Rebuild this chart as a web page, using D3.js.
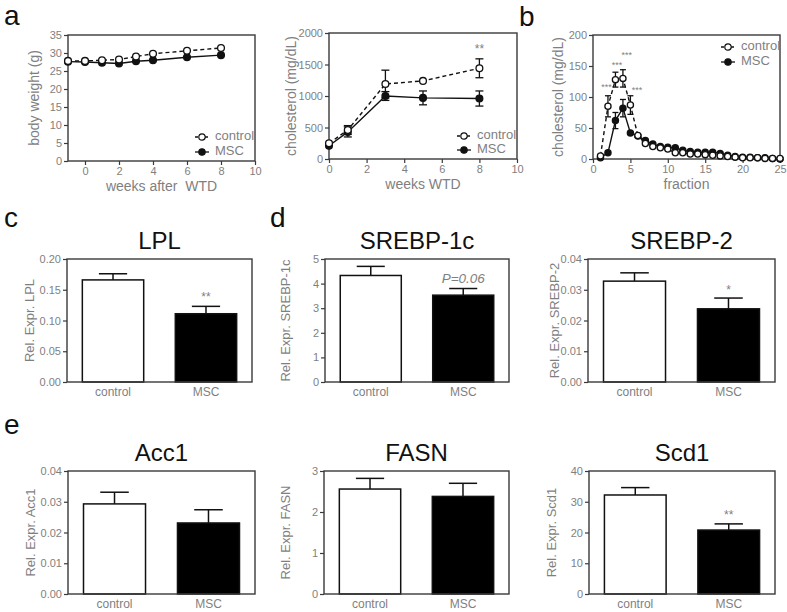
<!DOCTYPE html>
<html>
<head>
<meta charset="utf-8">
<script src="https://cdn.jsdelivr.net/npm/d3@7"></script>
<style>
  html, body { margin: 0; padding: 0; background: #fff; }
  svg { display: block; font-family: "Liberation Sans", Arial, sans-serif; }
</style>
</head>
<body>
<svg id="chart" width="787" height="612"></svg>
<script>
// ---------- DATA ----------
// panel a (left): body weight
const bwWeeks = [-1, 0, 1, 2, 3, 4, 6, 8];
const bwControl = [27.8, 27.8, 28.0, 28.2, 29.0, 29.8, 30.6, 31.4];
const bwControlErr = [0.4, 0.4, 0.4, 0.4, 0.5, 0.5, 0.6, 0.9];
const bwMSC = [27.6, 27.5, 27.3, 27.1, 27.7, 28.0, 28.8, 29.4];
const bwMSCErr = [0.4, 0.4, 0.4, 0.5, 0.4, 0.4, 0.5, 0.6];
const bwXTicks = [0, 2, 4, 6, 8, 10];
const bwYTicks = [0, 5, 10, 15, 20, 25, 30, 35];

// panel a (right): plasma cholesterol
const cholWeeks = [0, 1, 3, 5, 8];
const cholControl = [250, 460, 1190, 1240, 1440];
const cholControlErr = [40, 70, 220, 40, 150];
const cholMSC = [210, 430, 1000, 970, 960];
const cholMSCErr = [30, 80, 70, 110, 120];
const cholXTicks = [0, 2, 4, 6, 8, 10];
const cholYTicks = [0, 500, 1000, 1500, 2000];
const cholSig = [{x: 8, y: 1680, label: "**"}];

// panel b: FPLC fractions
const fractions = d3.range(1, 26);
const fracControl = [5, 85, 128, 130, 87, 38, 25, 20, 18, 16, 10, 10, 8, 8, 7, 6, 5, 4, 3, 2, 2, 2, 1, 1, 1];
const fracControlErr = [3, 17, 12, 14, 15, 5, 4, 3, 3, 3, 3, 3, 3, 3, 3, 2, 2, 2, 2, 1, 1, 1, 1, 1, 1];
const fracMSC = [2, 10, 62, 82, 42, 37, 30, 24, 20, 19, 18, 14, 12, 11, 11, 11, 9, 6, 4, 3, 3, 2, 2, 1, 0];
const fracMSCErr = [1, 2, 13, 14, 5, 4, 4, 3, 2, 2, 2, 2, 2, 2, 2, 2, 2, 2, 1, 1, 1, 1, 1, 1, 1];
const fracXTicks = [0, 5, 10, 15, 20, 25];
const fracYTicks = [0, 50, 100, 150, 200];
const fracSig = [
  {x: 1.8, y: 112, label: "***"},
  {x: 3.2, y: 147, label: "***"},
  {x: 4.5, y: 163, label: "***"},
  {x: 5.9, y: 106, label: "***"}
];

// bar panels
const groups = ["control", "MSC"];
const lplMean = [0.166, 0.111];
const lplErr = [0.010, 0.012];
const lplTicks = [0, 0.05, 0.10, 0.15, 0.20];
const srebp1cMean = [4.33, 3.53];
const srebp1cErr = [0.37, 0.27];
const srebp1cTicks = [0, 1, 2, 3, 4, 5];
const srebp2Mean = [0.0328, 0.0238];
const srebp2Err = [0.0027, 0.0035];
const srebp2Ticks = [0, 0.01, 0.02, 0.03, 0.04];
const acc1Mean = [0.0293, 0.0231];
const acc1Err = [0.0038, 0.0043];
const acc1Ticks = [0, 0.01, 0.02, 0.03, 0.04];
const fasnMean = [2.56, 2.38];
const fasnErr = [0.26, 0.32];
const fasnTicks = [0, 1, 2, 3];
const scd1Mean = [32.2, 20.8];
const scd1Err = [2.4, 2.0];
const scd1Ticks = [0, 10, 20, 30, 40];

// ---------- STYLE ----------
const AXIS = "#3a3a3a";
const GRAY = "#7f7f7f";
const FONT = "Liberation Sans, Arial, sans-serif";
const svg = d3.select("#chart");

function frameAndAxes(g, x, y, box, xTicks, yTicks, yFmt, xIsBand) {
  g.append("rect")
    .attr("x", box.L).attr("y", box.T)
    .attr("width", box.R - box.L).attr("height", box.B - box.T)
    .attr("fill", "none").attr("stroke", AXIS).attr("stroke-width", 1.4);
  const ya = d3.axisLeft(y).tickValues(yTicks).tickSize(4).tickPadding(2).tickFormat(yFmt);
  const yg = g.append("g").attr("transform", `translate(${box.L},0)`).call(ya);
  yg.select(".domain").remove();
  yg.selectAll("line").attr("stroke", AXIS).attr("stroke-width", 1.2);
  yg.selectAll("text").attr("fill", GRAY).attr("font-size", 11).attr("font-family", FONT);
  let xa;
  if (xIsBand) {
    xa = d3.axisBottom(x).tickSize(0).tickPadding(5);
  } else {
    xa = d3.axisBottom(x).tickValues(xTicks).tickSize(4).tickPadding(2).tickFormat(d3.format("d"));
  }
  const xg = g.append("g").attr("transform", `translate(0,${box.B})`).call(xa);
  xg.select(".domain").remove();
  xg.selectAll("line").attr("stroke", AXIS).attr("stroke-width", 1.2);
  xg.selectAll("text").attr("fill", GRAY).attr("font-size", xIsBand ? 12 : 11).attr("font-family", FONT);
}

function yLabel(g, text, cx, box, size) {
  g.append("text")
    .attr("transform", `translate(${cx},${(box.T + box.B) / 2}) rotate(-90)`)
    .attr("text-anchor", "middle").attr("dominant-baseline", "middle")
    .attr("font-family", FONT)
    .attr("fill", GRAY).attr("font-size", size).text(text);
}

function panelLetter(text, x, y) {
  svg.append("text").attr("x", x).attr("y", y).attr("font-family", FONT)
    .attr("font-size", 28).attr("fill", "#111").text(text);
}

function lineChart(o) {
  const g = svg.append("g");
  const box = o.box;
  const x = d3.scaleLinear().domain(o.xDomain).range([box.L, box.R]);
  const y = d3.scaleLinear().domain(o.yDomain).range([box.B, box.T]);
  frameAndAxes(g, x, y, box, o.xTicks, o.yTicks, d3.format("d"), false);

  const series = [
    {xs: o.xs, ys: o.msc, err: o.mscErr, open: false, dash: null},
    {xs: o.xs, ys: o.ctrl, err: o.ctrlErr, open: true, dash: "4,3"}
  ];
  const line = d3.line().x(d => x(d[0])).y(d => y(d[1]));
  series.forEach(s => {
    const pts = s.xs.map((v, i) => [v, s.ys[i], s.err[i]]);
    g.append("path").datum(pts).attr("d", line)
      .attr("fill", "none").attr("stroke", "#111").attr("stroke-width", 1.4)
      .attr("stroke-dasharray", s.dash);
    const eg = g.append("g").attr("stroke", "#111").attr("stroke-width", 1.3);
    pts.forEach(p => {
      const xp = x(p[0]);
      const yHi = y(p[1] + p[2]), yLo = y(p[1] - p[2]);
      if (Math.abs(yHi - yLo) > 2 * o.r + 1) {
        eg.append("line").attr("x1", xp).attr("x2", xp).attr("y1", yHi).attr("y2", yLo);
        eg.append("line").attr("x1", xp - o.cap).attr("x2", xp + o.cap).attr("y1", yHi).attr("y2", yHi);
        eg.append("line").attr("x1", xp - o.cap).attr("x2", xp + o.cap).attr("y1", yLo).attr("y2", yLo);
      }
    });
    g.selectAll(null).data(pts).enter().append("circle")
      .attr("cx", d => x(d[0])).attr("cy", d => y(d[1])).attr("r", o.r)
      .attr("fill", s.open ? "#fff" : "#111").attr("stroke", "#111").attr("stroke-width", 1.3);
  });

  (o.sig || []).forEach(s => {
    g.append("text").attr("x", x(s.x)).attr("y", y(s.y)).attr("font-family", FONT)
      .attr("text-anchor", "middle").attr("fill", GRAY).attr("font-size", o.sigSize || 11)
      .text(s.label);
  });

  const lg = g.append("g").attr("transform", `translate(${o.legend[0]},${o.legend[1]})`);
  [{label: "control", open: true, dash: "3,2", dy: 0}, {label: "MSC", open: false, dash: null, dy: o.legendGap}]
    .forEach(e => {
      lg.append("line").attr("x1", -6).attr("x2", 8).attr("y1", e.dy).attr("y2", e.dy)
        .attr("stroke", "#111").attr("stroke-width", 1.3).attr("stroke-dasharray", e.dash);
      lg.append("circle").attr("cx", 1).attr("cy", e.dy).attr("r", 3.2)
        .attr("fill", e.open ? "#fff" : "#111").attr("stroke", "#111").attr("stroke-width", 1.2);
      lg.append("text").attr("x", 14).attr("y", e.dy).attr("dominant-baseline", "middle")
        .attr("font-family", FONT)
        .attr("fill", GRAY).attr("font-size", 13).text(e.label);
    });

  g.append("text").attr("x", (box.L + box.R) / 2).attr("y", box.B + 30)
    .attr("text-anchor", "middle").attr("fill", GRAY).attr("font-size", 14)
    .attr("font-family", FONT)
    .attr("xml:space", "preserve").style("white-space", "pre").text(o.xTitle);
  yLabel(g, o.yTitle, o.yTitleX, box, 14);
}

function barChart(o) {
  const g = svg.append("g");
  const box = o.box;
  const x = d3.scaleBand().domain(groups).range([box.L, box.R])
    .paddingInner(0.34).paddingOuter(0.165);
  const y = d3.scaleLinear().domain([o.ticks[0], o.ticks[o.ticks.length - 1]]).range([box.B, box.T]);
  const bw = x.bandwidth();
  const capW = bw * 0.46;
  groups.forEach((k, i) => {
    const cx = x(k) + bw / 2;
    g.append("line").attr("x1", cx).attr("x2", cx)
      .attr("y1", y(o.mean[i])).attr("y2", y(o.mean[i] + o.err[i]))
      .attr("stroke", "#111").attr("stroke-width", 1.5);
    g.append("line").attr("x1", cx - capW / 2).attr("x2", cx + capW / 2)
      .attr("y1", y(o.mean[i] + o.err[i])).attr("y2", y(o.mean[i] + o.err[i]))
      .attr("stroke", "#111").attr("stroke-width", 1.5);
  });
  g.selectAll(null).data(groups).enter().append("rect")
    .attr("x", d => x(d)).attr("width", bw)
    .attr("y", (d, i) => y(o.mean[i])).attr("height", (d, i) => box.B - y(o.mean[i]))
    .attr("fill", (d, i) => i === 0 ? "#fff" : "#000")
    .attr("stroke", "#111").attr("stroke-width", 1.5);
  frameAndAxes(g, x, y, box, null, o.ticks, d3.format(o.fmt), true);

  if (o.sig) {
    const t = g.append("text").attr("x", x("MSC") + bw / 2)
      .attr("y", y(o.mean[1] + o.err[1]) - o.sig.dy)
      .attr("font-family", FONT)
      .attr("text-anchor", "middle").attr("fill", GRAY).attr("font-size", o.sig.size)
      .text(o.sig.label);
    if (o.sig.italic) t.attr("font-style", "italic");
  }
  g.append("text").attr("x", (box.L + box.R) / 2).attr("y", box.T - 10)
    .attr("font-family", FONT)
    .attr("text-anchor", "middle").attr("fill", "#111").attr("font-size", 24).text(o.title);
  yLabel(g, o.yTitle, o.yTitleX, box, 13);
}

// ---------- PANELS ----------
lineChart({
  box: {L: 68, R: 255, T: 35, B: 161}, xDomain: [-1, 10], yDomain: [0, 35],
  xTicks: bwXTicks, yTicks: bwYTicks, xs: bwWeeks,
  ctrl: bwControl, ctrlErr: bwControlErr, msc: bwMSC, mscErr: bwMSCErr,
  r: 3.4, cap: 3.5, legend: [201, 137], legendGap: 15,
  xTitle: "weeks after  WTD", yTitle: "body weight (g)", yTitleX: 35
});
lineChart({
  box: {L: 329, R: 517, T: 33, B: 159}, xDomain: [0, 10], yDomain: [0, 2000],
  xTicks: cholXTicks, yTicks: cholYTicks, xs: cholWeeks,
  ctrl: cholControl, ctrlErr: cholControlErr, msc: cholMSC, mscErr: cholMSCErr,
  r: 3.4, cap: 4, legend: [463, 136], legendGap: 14, sig: cholSig, sigSize: 12,
  xTitle: "weeks WTD", yTitle: "cholesterol (mg/dL)", yTitleX: 292
});
lineChart({
  box: {L: 593, R: 780, T: 35, B: 159}, xDomain: [0, 25], yDomain: [0, 200],
  xTicks: fracXTicks, yTicks: fracYTicks, xs: fractions,
  ctrl: fracControl, ctrlErr: fracControlErr, msc: fracMSC, mscErr: fracMSCErr,
  r: 3.1, cap: 3, legend: [727, 47], legendGap: 15, sig: fracSig, sigSize: 9,
  xTitle: "fraction", yTitle: "cholesterol (mg/dL)", yTitleX: 559
});

barChart({box: {L: 67, R: 252, T: 259, B: 382}, mean: lplMean, err: lplErr, ticks: lplTicks,
  fmt: ".2f", title: "LPL", yTitle: "Rel. Expr. LPL", yTitleX: 31,
  sig: {label: "**", dy: 5, size: 12}});
barChart({box: {L: 325, R: 509, T: 259, B: 382}, mean: srebp1cMean, err: srebp1cErr, ticks: srebp1cTicks,
  fmt: "d", title: "SREBP-1c", yTitle: "Rel. Expr. SREBP-1c", yTitleX: 287,
  sig: {label: "P=0.06", dy: 6, size: 13.5, italic: true}});
barChart({box: {L: 588, R: 775, T: 259, B: 382}, mean: srebp2Mean, err: srebp2Err, ticks: srebp2Ticks,
  fmt: ".2f", title: "SREBP-2", yTitle: "Rel. Expr. SREBP-2", yTitleX: 556,
  sig: {label: "*", dy: 4, size: 12}});
barChart({box: {L: 68, R: 255, T: 471, B: 594}, mean: acc1Mean, err: acc1Err, ticks: acc1Ticks,
  fmt: ".2f", title: "Acc1", yTitle: "Rel. Expr. Acc1", yTitleX: 32});
barChart({box: {L: 324, R: 509, T: 471, B: 594}, mean: fasnMean, err: fasnErr, ticks: fasnTicks,
  fmt: "d", title: "FASN", yTitle: "Rel. Expr. FASN", yTitleX: 287});
barChart({box: {L: 589, R: 775, T: 471, B: 594}, mean: scd1Mean, err: scd1Err, ticks: scd1Ticks,
  fmt: "d", title: "Scd1", yTitle: "Rel. Expr. Scd1", yTitleX: 553,
  sig: {label: "**", dy: 5, size: 12}});

panelLetter("a", 4, 25);
panelLetter("b", 519, 26);
panelLetter("c", 4, 227);
panelLetter("d", 270, 227);
panelLetter("e", 4, 434);
</script>
</body>
</html>
